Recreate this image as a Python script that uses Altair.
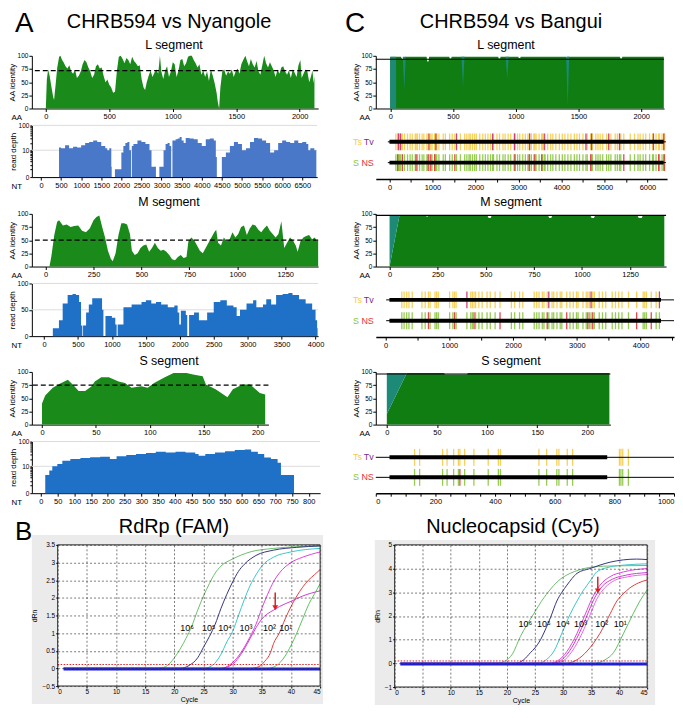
import altair as alt
import pandas as pd

FONT = "Liberation Sans"
GREEN_A = "#1a8a1a"
GREEN_C = "#0f7d12"
TEAL = "#1d8a78"
BLUE_L = "#4a78c8"
BLUE_MS = "#1f71c8"
YEL = "#f6cc4a"
TV_COL = "#c8306a"
S_COL = "#8cc63f"
NS_COL = "#e2323a"
PURPLE = "#7b2d8e"

# ---------------- Panel A: CHRB594 vs Nyangole ----------------
nyL_aa = [(0,0),(8,55),(18,74),(30,62),(45,40),(58,22),(65,16),(75,40),(90,78),(105,98),(115,100),(128,92),(140,88),(155,80),(170,76),(185,82),(200,70),(215,66),(230,74),(245,58),(260,62),(275,70),(290,84),(305,92),(320,88),(335,78),(350,70),(365,58),(380,64),(395,80),(410,84),(425,76),(440,78),(455,62),(470,50),(485,55),(500,45),(515,40),(530,30),(545,32),(560,72),(575,98),(590,100),(605,94),(620,86),(635,96),(650,92),(665,84),(680,98),(695,90),(710,86),(725,80),(740,82),(755,55),(770,40),(782,35),(795,50),(810,62),(825,72),(840,60),(855,68),(870,74),(885,66),(899,100),(910,70),(925,56),(940,72),(955,80),(970,60),(985,70),(1000,88),(1015,84),(1030,60),(1045,72),(1060,92),(1075,94),(1090,80),(1105,86),(1120,98),(1135,100),(1150,100),(1165,92),(1180,86),(1195,78),(1210,84),(1225,64),(1240,72),(1255,60),(1270,70),(1285,52),(1300,74),(1315,62),(1330,48),(1345,30),(1355,12),(1365,0),(1375,40),(1390,70),(1405,74),(1420,62),(1435,70),(1450,66),(1465,74),(1480,60),(1495,70),(1510,76),(1525,66),(1540,84),(1555,92),(1572,100),(1585,90),(1600,80),(1615,94),(1630,84),(1645,78),(1660,90),(1675,70),(1690,64),(1705,82),(1720,100),(1735,86),(1750,78),(1765,88),(1780,80),(1795,72),(1810,60),(1825,74),(1840,66),(1855,78),(1870,80),(1885,70),(1900,64),(1915,72),(1930,58),(1945,74),(1960,68),(1975,60),(1990,82),(2005,92),(2015,58),(2030,66),(2045,74),(2060,70),(2075,50),(2090,62),(2100,72),(2110,48),(2116,62)]
nyL_nt = [(0,0),(450,13),(500,12),(600,16),(700,12),(800,14),(900,13),(1000,16),(1100,20),(1200,22),(1300,25),(1400,22),(1500,15),(1600,12),(1650,10),(1700,12),(1750,1.5),(1760,0),(1840,1),(1960,1),(2000,8),(2050,15),(2100,20),(2150,22),(2200,10),(2240,0),(2260,15),(2300,18),(2400,25),(2500,22),(2600,18),(2700,10),(2750,1.5),(2860,0),(2945,1.5),(3000,1.5),(3050,10),(3100,18),(3150,20),(3200,15),(3240,0),(3270,25),(3350,28),(3400,30),(3450,35),(3500,25),(3550,20),(3600,32),(3700,30),(3800,28),(3900,20),(4000,15),(4100,28),(4200,30),(4300,25),(4350,5),(4375,0),(4500,5),(4600,8),(4700,15),(4800,22),(4900,18),(5000,10),(5100,12),(5200,22),(5300,32),(5400,30),(5500,25),(5600,20),(5700,8),(5800,10),(5900,20),(6000,25),(6100,22),(6200,20),(6300,25),(6400,20),(6500,22),(6600,18),(6650,10),(6700,12),(6800,10),(6850,0)]
nyM_aa = [(0,0),(20,0),(30,20),(45,60),(60,85),(70,88),(90,78),(110,80),(130,75),(150,77),(170,78),(190,68),(210,65),(230,72),(250,88),(265,94),(280,97),(295,75),(310,55),(325,30),(340,15),(350,10),(365,25),(380,60),(395,82),(410,82),(425,80),(440,62),(450,30),(465,22),(480,25),(495,35),(510,40),(525,42),(540,28),(555,35),(570,45),(585,35),(600,30),(615,32),(630,28),(645,22),(660,14),(675,12),(690,18),(705,22),(720,16),(735,18),(745,48),(760,55),(775,50),(790,40),(805,30),(820,25),(835,35),(850,45),(865,55),(880,65),(890,70),(900,45),(915,40),(930,55),(945,48),(960,52),(975,65),(990,55),(1005,62),(1020,75),(1035,78),(1050,60),(1065,72),(1080,80),(1095,78),(1110,70),(1125,65),(1140,72),(1155,78),(1170,68),(1185,62),(1200,55),(1215,62),(1230,86),(1245,35),(1260,45),(1275,55),(1290,50),(1305,40),(1315,28),(1330,48),(1345,55),(1360,58),(1375,60),(1390,52),(1405,55),(1415,48),(1422,50)]
nyM_nt = [(0,0),(130,15),(220,30),(275,62),(348,78),(420,80),(470,78),(517,65),(545,20),(565,0),(575,20),(620,45),(660,60),(710,72),(800,72),(855,50),(875,0),(905,38),(1000,35),(1050,22),(1070,0),(1085,22),(1170,55),(1290,60),(1436,65),(1500,68),(1580,62),(1650,65),(1726,60),(1823,55),(1920,58),(1968,45),(1992,22),(2016,48),(2089,40),(2110,0),(2137,40),(2210,45),(2282,30),(2355,30),(2403,45),(2500,65),(2597,68),(2693,58),(2790,55),(2838,38),(2887,50),(2983,62),(3080,68),(3128,55),(3225,60),(3274,70),(3346,60),(3419,78),(3515,80),(3600,82),(3660,78),(3757,70),(3854,62),(3950,50),(4000,30),(4023,15),(4030,0)]
nyS_aa = [(0,40),(3,55),(10,70),(16,77),(24,85),(30,73),(34,64),(40,64),(46,73),(49,82),(55,90),(62,90),(71,82),(77,79),(83,70),(92,73),(98,70),(104,79),(113,89),(122,98),(134,98),(140,95),(149,92),(152,76),(161,67),(172,52),(177,67),(186,76),(193,76),(198,67),(202,60),(207,57)]
nyS_nt = [(13,4.1),(25,6.5),(34,10),(49,12.5),(64,17),(88,20),(118,22),(147,24),(177,25),(206,20),(226,26),(255,29),(284,32),(314,35),(343,39),(373,37),(402,39),(432,37),(461,32),(471,27),(491,32),(520,37),(550,41),(579,46),(609,48),(628,39),(648,32),(667,23),(687,20),(707,14),(717,4.1),(756,0)]
ny_thresholds = {"L": 72, "M": 50, "S": 75}

# ---------------- Panel C: CHRB594 vs Bangui ----------------
bgL_aa = [(0,98),(85,98),(95,94),(110,94),(120,98),(290,98),(295,89),(305,89),(310,98),(470,98),(475,95),(485,95),(490,98),(860,98),(865,95),(875,95),(880,98),(1020,98),(1025,96),(1035,96),(1040,98),(1400,98),(1405,96),(1410,98),(1830,98),(1835,95),(1845,95),(1850,98),(2180,98)]
bgL_teal = [("a",0,0,98),("a",47,0,98),("b",100,98,98),("b",112,37,98),("b",124,98,98),("c",568,98,98),("c",580,41,98),("c",592,98,98),("d",920,98,98),("d",932,57,98),("d",944,98,98),("e",1402,98,98),("e",1414,5,98),("e",1426,98,98)]
bgM_aa = [(0,0),(51,96),(190,96),(195,94),(200,96),(510,96),(515,92),(525,92),(530,96),(825,96),(830,92),(840,92),(845,96),(1045,96),(1050,92),(1062,92),(1067,96),(1290,96),(1295,92),(1310,92),(1315,96),(1428,96)]
bgM_teal = [("a",0,0,96),("a",51,96,96)]
bgS_aa = [(0,20),(20,98),(57,98),(58,95),(80,95),(81,98),(222,98)]
bgS_teal = [("a",0,20,98),("a",20,98,98)]
bg_lines = {"L": 93.5, "M": 97, "S": 96}

bgL_sub = [150,190,210,230,260,300,350,420,480,530,600,620,650,700,760,800,870,900,920,960,990,1050,1060,1080,1100,1150,1250,1300,1400,1460,1520,1560,1650,1750,1800,1850,1880,1930,1980,2020,2100,2170,2230,2290,2350,2400,2420,2500,2560,2640,2690,2760,2820,2900,2910,2920,2980,3030,3100,3160,3220,3250,3260,3300,3360,3380,3410,3480,3540,3560,3600,3620,3680,3750,3800,3870,3950,4020,4080,4150,4220,4300,4360,4420,4500,4570,4600,4680,4700,4720,4800,4850,4900,4960,5050,5100,5150,5250,5300,5350,5380,5450,5600,5700,5780,5830,5900,5960,6050,6120,6140,6200,6260,6280,6340,6380,6390,6400]
bgL_tv = [210,260,920,1080,1560,2400,2910,3260,3600,4570,4700,5100,5350,6140,6380]
bgL_ns = [190,300,620,900,960,1050,1520,2920,3250,3380,3540,4680,5450,6260,6390]
bgM_sub = [255,291,332,367,418,571,622,673,699,776,801,827,1005,1056,1082,1107,1276,1337,1362,1388,1413,1464,1515,1592,1643,1719,1796,1974,2026,2102,2153,2332,2372,2408,2459,2485,2536,2561,2612,2638,2689,2740,2765,2842,2893,2944,2995,3020,3097,3148,3173,3199,3224,3250,3276,3352,3403,3454,3556,3607,3658,3709,3811,3939,4041,4066,4092,4168,4245,4296]
bgM_tv = [1276,2561,3224,4296]
bgM_ns = [673,1082,1388,1796,2536,2842,3173,3250,3939,4168]
bgS_sub = [130,147,224,239,261,277,282,298,329,377,411,418,547,573,607,614,642,660,817,822,828,847]
bgS_tv = []
bgS_ns = [282]

# ---------------- Panel B: qPCR ----------------
cycles_axis = [0, 5, 10, 15, 20, 25, 30, 35, 40, 45]
fam_curves = [
    ("g6", "#6cbd6c", [1,17,18.5,20,21,22,23,24,25,26,27,28,30,33,37,41,45], [0,0,0.05,0.3,0.55,0.85,1.2,1.65,2.05,2.4,2.7,2.9,3.1,3.3,3.4,3.45,3.47]),
    ("n5", "#34347e", [1,21,22.5,24,25,26,27,28,29,30,31,32,34,37,41,45], [0,0,0.08,0.3,0.6,0.9,1.25,1.7,2.1,2.45,2.75,2.95,3.2,3.35,3.43,3.47]),
    ("c4", "#3ec6c6", [1,25,26.5,28,29,30,31,32,33,34,35,37,40,45], [0,0,0.08,0.4,0.75,1.05,1.5,1.95,2.35,2.65,2.9,3.15,3.3,3.4]),
    ("m3a", "#e040dc", [1,28,29.5,31,32,33,34,35,36,37,38,40,42,45], [0,0,0.1,0.35,0.6,0.9,1.25,1.7,2.1,2.45,2.7,3.0,3.15,3.3]),
    ("m3b", "#d23ad0", [1,28,30,31,32,33,34,35,36,37,38,40,42,45], [0,0,0.12,0.3,0.55,0.85,1.15,1.4,1.55,1.65,1.75,1.9,2.05,2.2]),
    ("r2", "#e04040", [1,33,34.5,35.5,36.5,37,38,39,40,41,42,43,44,45], [0,0,0.05,0.2,0.45,0.7,1.0,1.4,1.75,2.05,2.3,2.5,2.65,2.8]),
    ("g1", "#5fbf5f", [1,36,37.5,39,40,41,42,43,44,45], [0,0,0.08,0.35,0.65,1.0,1.4,1.8,2.1,2.4]),
]
cy5_curves = [
    ("g6", "#6cbd6c", [1,18,19.5,21,22.4,23.5,24.8,25.7,26.6,27.5,28.4,29.5,30.7,32,33.7,35.5,37.2,41,45], [0,0,0.08,0.4,1.13,1.6,2.1,2.45,2.77,3.05,3.3,3.55,3.73,3.87,4.0,4.07,4.1,4.12,4.13]),
    ("n5", "#34347e", [1,21.5,23,24.2,25,26,27,27.8,28.9,29.8,30.7,31.6,32.5,34.8,38.4,43.1,45], [0,0,0.15,0.45,0.65,1.0,1.5,1.95,2.63,3.0,3.3,3.58,3.8,4.0,4.27,4.4,4.38]),
    ("c4", "#3ec6c6", [1,25.5,27,28.4,29.8,31.3,32.5,33.4,34.3,35.2,36,38.4,41,45], [0,0,0.15,0.52,1.27,2.09,2.63,3.0,3.3,3.6,3.86,4.07,4.15,4.2]),
    ("m3a", "#e040dc", [1,27.5,29,30.7,32.5,34,35.1,36.6,38.4,40.8,45], [0,0,0.1,0.5,1.27,2.09,2.7,3.3,3.66,3.86,4.0]),
    ("m3b", "#d23ad0", [1,28,29.5,31.1,32.9,34.4,35.5,37,38.8,41.2,45], [0,0,0.1,0.5,1.27,2.09,2.7,3.25,3.55,3.72,3.83]),
    ("m3c", "#e866e0", [1,28.5,30,31.6,33.4,34.9,36,37.5,39.2,41.5,45], [0,0,0.1,0.5,1.27,2.09,2.7,3.2,3.5,3.65,3.75]),
    ("r2", "#e04040", [1,30.5,32.5,34.3,36.6,38.4,39.6,40.8,41.9,43.5,45], [0,0,0.15,0.52,1.27,2.09,2.63,2.95,3.18,3.4,3.52]),
    ("g1", "#5fbf5f", [1,35.5,37.5,39,40.8,42.5,43.7,45], [0,0,0.15,0.45,1.27,2.09,2.63,3.1]),
]
dil_labels = ["10\u2076", "10\u2075", "10\u2074", "10\u00b3", "10\u00b2", "10\u00b9"]
fam_label_x = [22.2, 25.9, 28.7, 32.3, 36.3, 39.1]
fam_label_y = 1.13
cy5_label_x = [23.3, 26.6, 30.0, 33.1, 36.9, 40.2]
cy5_label_y = 1.68
fam_arrow = (37.3, 2.15, 1.72)
cy5_arrow = (36.2, 3.65, 3.05)
fam_threshold, cy5_threshold = 0.11, 0.1
fam_baseline, cy5_baseline = -0.02, -0.03


def text_layer(txt, x, y, size, align="left", color="black"):
    return alt.Chart(pd.DataFrame({"t": [txt]})).mark_text(
        align=align, baseline="alphabetic", fontSize=size, font=FONT, color=color
    ).encode(x=alt.value(x), y=alt.value(y), text="t:N")


def pad_layer(top):
    # invisible box that reserves room above the plot for the segment titles
    return alt.Chart(pd.DataFrame({"a": [0]})).mark_rect(opacity=0).encode(
        x=alt.value(0), x2=alt.value(1), y=alt.value(-top), y2=alt.value(0))


def aa_panel(pairs, dom, ticks, width, thr, dashed, texts, green, teal=None, aa_x=-21, pad=None):
    df = pd.DataFrame(pairs, columns=["pos", "val"])
    xs = alt.Scale(domain=dom, nice=False, zero=False)
    ys = alt.Scale(domain=[0, 100], nice=False, zero=False)
    xa = alt.Axis(values=ticks, title="AA", titleX=aa_x, titleY=9, titleAlign="left",
                  titleBaseline="middle", labelOverlap=False, labelFlush=False,
                  titleFontSize=8, format="d")
    ya = alt.Axis(values=[0, 25, 50, 75, 100], title="AA identity", labelFontSize=6.5)
    layers = [alt.Chart(df).mark_area(color=green).encode(
        x=alt.X("pos:Q", scale=xs, axis=xa), y=alt.Y("val:Q", scale=ys, axis=ya))]
    if teal is not None:
        tdf = pd.DataFrame(teal, columns=["g", "pos", "lo", "hi"])
        layers.append(alt.Chart(tdf).mark_area(color=TEAL).encode(
            x=alt.X("pos:Q", scale=xs, axis=xa), y=alt.Y("lo:Q", scale=ys, axis=ya),
            y2="hi:Q", detail="g:N"))
    kw = dict(color="black", strokeWidth=1.2)
    if dashed:
        kw["strokeDash"] = [5, 3]
    layers.append(alt.Chart(pd.DataFrame({"t": [thr]})).mark_rule(**kw).encode(
        y=alt.Y("t:Q", scale=ys, axis=ya)))
    for t in texts:
        layers.append(text_layer(*t))
    if pad:
        layers.append(pad_layer(pad))
    return alt.layer(*layers).properties(width=width, height=53)


def depth_panel(pairs, dom, ticks, width, height, log, color):
    df = pd.DataFrame(pairs, columns=["pos", "val"])
    xs = alt.Scale(domain=dom, nice=False, zero=False)
    if log:
        ys = alt.Scale(type="symlog", domain=[0, 100], nice=False)
        yv = [0, 1, 2, 3, 4, 5, 6, 7, 8, 9, 10, 20, 30, 40, 50, 60, 70, 80, 90, 100]
        ya = alt.Axis(values=yv, title="read depth", format="d", tickSize=2, labelFontSize=6.5,
                      labelExpr="(datum.value==0||datum.value==10||datum.value==100) ? datum.label : ''")
        gv = [10, 100]
    else:
        ys = alt.Scale(domain=[0, 100], nice=False, zero=False)
        ya = alt.Axis(values=[0, 50, 100], title="read depth", labelFontSize=6.5)
        gv = [50, 100]
    xa = alt.Axis(values=ticks, title="NT", titleX=-21, titleY=9, titleAlign="left",
                  titleBaseline="middle", labelOverlap=False, labelFlush=False, format="d")
    grid = alt.Chart(pd.DataFrame({"g": gv})).mark_rule(color="#dcdcdc").encode(
        y=alt.Y("g:Q", scale=ys, axis=ya))
    area = alt.Chart(df).mark_area(color=color, interpolate="step-after").encode(
        x=alt.X("pos:Q", scale=xs, axis=xa), y=alt.Y("val:Q", scale=ys, axis=ya))
    return alt.layer(grid, area).properties(width=width, height=height)


def track_panel(subs, tv, ns, dom, tick_vals, every, width, height, thick, thin, flush=False):
    xs = alt.Scale(domain=dom, nice=False, zero=False)
    xa = alt.Axis(values=tick_vals, title=None, domainWidth=1.5, labelOverlap=False,
                  labelFlush=flush, format="d",
                  labelExpr=f"datum.value % {every} === 0 ? datum.label : ''")
    ys = alt.Scale(domain=["top", "bot"], paddingInner=0, paddingOuter=0.29)
    yenc = alt.Y("row:N", scale=ys, axis=None)
    groups = [
        ([p for p in subs if p not in tv], "top", YEL),
        ([p for p in subs if p in tv], "top", TV_COL),
        ([p for p in subs if p not in ns], "bot", S_COL),
        ([p for p in subs if p in ns], "bot", NS_COL),
    ]
    layers = []
    for plist, r, col in groups:
        if not plist:
            continue
        gdf = pd.DataFrame({"pos": plist, "row": [r] * len(plist)})
        layers.append(alt.Chart(gdf).mark_tick(thickness=1.3, size=17, opacity=0.9, color=col).encode(
            x=alt.X("pos:Q", scale=xs, axis=xa), y=yenc))
    thin_df = pd.DataFrame({"row": ["top", "bot"], "a": [thin[0]] * 2, "b": [thin[1]] * 2})
    thick_df = pd.DataFrame({"row": ["top", "bot"], "a": [thick[0]] * 2, "b": [thick[1]] * 2})
    layers.append(alt.Chart(thin_df).mark_rule(color="black", strokeWidth=1).encode(
        x=alt.X("a:Q", scale=xs, axis=xa), x2="b:Q", y=yenc))
    layers.append(alt.Chart(thick_df).mark_rule(color="black", strokeWidth=4).encode(
        x=alt.X("a:Q", scale=xs, axis=xa), x2="b:Q", y=yenc))
    for w, r, xo, col in [("Ts", "top", -14, YEL), ("Tv", "top", -2, PURPLE),
                          ("S", "bot", -17, S_COL), ("NS", "bot", -2, NS_COL)]:
        layers.append(alt.Chart(pd.DataFrame({"w": [w], "row": [r]})).mark_text(
            align="right", baseline="middle", fontSize=9, color=col, font=FONT).encode(
            x=alt.value(xo), y=yenc, text="w:N"))
    return alt.layer(*layers).properties(width=width, height=height)


def qpcr_panel(curves, ydom, yticks, ox, width, height, thr, base, lab_x, lab_y, arrow,
               texts, gray, pad):
    # ox: left inset of the plotting frame inside this cell
    xs = alt.Scale(domain=[0, 45], nice=False, zero=False, range=[ox, ox + width])
    ys = alt.Scale(domain=ydom, nice=False, zero=False)
    xa = alt.Axis(values=cycles_axis, title="Cycle", grid=True, gridDash=[2, 2],
                  gridColor="#444", gridWidth=0.7, zindex=1, domain=False,
                  labelFontSize=6.5, titleFontSize=7, tickSize=2, titlePadding=0)
    ya = alt.Axis(values=yticks, title="dRn", format="~g", grid=True, gridDash=[2, 2],
                  gridColor="#444", gridWidth=0.7, zindex=1, domain=False, offset=-ox,
                  labelFontSize=6.5, titleFontSize=7, tickSize=2, titlePadding=4)
    X = lambda f: alt.X(f, scale=xs, axis=xa)
    Y = lambda f: alt.Y(f, scale=ys, axis=ya)
    one = pd.DataFrame({"a": [0]})
    bg = alt.Chart(one).mark_rect(color="#ebebeb").encode(
        x=alt.value(ox + gray[0]), x2=alt.value(ox + width + gray[1]),
        y=alt.value(gray[2]), y2=alt.value(height + gray[3]))
    white = alt.Chart(one).mark_rect(color="white").encode(
        x=alt.value(ox), x2=alt.value(ox + width), y=alt.value(0), y2=alt.value(height))
    layers = [bg, white]
    for name, col, cx, cy in curves:
        cdf = pd.DataFrame({"cycle": cx, "v": cy})
        layers.append(alt.Chart(cdf).mark_line(strokeWidth=1, interpolate="monotone", color=col).encode(
            x=X("cycle:Q"), y=Y("v:Q")))
    layers.append(alt.Chart(pd.DataFrame({"t": [thr]})).mark_rule(
        color="#e02020", strokeDash=[1.5, 1.5], strokeWidth=1).encode(
        y=Y("t:Q"), x=alt.value(ox), x2=alt.value(ox + width)))
    layers.append(alt.Chart(pd.DataFrame({"cycle": [1, 45], "v": [base, base]})).mark_line(
        color="#1d1dd8", strokeWidth=3).encode(x=X("cycle:Q"), y=Y("v:Q")))
    layers.append(alt.Chart(pd.DataFrame({"x": lab_x, "y": [lab_y] * len(lab_x), "t": dil_labels})).mark_text(
        fontSize=9, font=FONT, color="black").encode(x=X("x:Q"), y=Y("y:Q"), text="t:N"))
    adf = pd.DataFrame({"x": [arrow[0]], "y1": [arrow[1]], "y2": [arrow[2]]})
    layers.append(alt.Chart(adf).mark_rule(color="#e02020", strokeWidth=1.5).encode(
        x=X("x:Q"), y=Y("y1:Q"), y2="y2:Q"))
    layers.append(alt.Chart(adf).mark_point(shape="triangle-down", filled=True, size=35,
                                            color="#e02020", opacity=1).encode(x=X("x:Q"), y=Y("y2:Q")))
    layers.append(alt.Chart(one).mark_rect(filled=False, stroke="#222", strokeWidth=1).encode(
        x=alt.value(ox), x2=alt.value(ox + width), y=alt.value(0), y2=alt.value(height)))
    for t in texts:
        txt, x, y, size = t[:4]
        rest = t[4:]
        layers.append(text_layer(txt, x + ox, y, size, *rest))
    layers.append(pad_layer(pad))
    return alt.layer(*layers).properties(width=ox + width, height=height)


# ---------- build panels ----------
aL_A = aa_panel(nyL_aa, [-110, 2145], [0, 500, 1000, 1500, 2000], 288, ny_thresholds["L"], True,
                [("A", -17, -24, 28), ("CHRB594 vs Nyangole", 138, -28, 20, "center"),
                 ("L segment", 143, -7, 12.5, "center")], GREEN_A)
aL_C = aa_panel(bgL_aa, [-115, 2182], [0, 500, 1000, 1500, 2000], 290, bg_lines["L"], False,
                [("C", -31, -24, 28), ("CHRB594 vs Bangui", 136, -28, 20, "center"),
                 ("L segment", 131, -7, 12.5, "center")], GREEN_C, teal=bgL_teal, aa_x=-17)
dL = depth_panel(nyL_nt, [-226, 6870], list(range(0, 6501, 500)), 287, 52, True, BLUE_L)
tL = track_panel(bgL_sub, bgL_tv, bgL_ns, [-318, 6456], list(range(0, 6001, 500)), 1000,
                 293, 54, (0, 6378), (-38, 6430))

aM_A = aa_panel(nyM_aa, [-72, 1422], [0, 250, 500, 750, 1000, 1250], 288, ny_thresholds["M"], True,
                [("M segment", 138, -8, 12.5, "center")], GREEN_A, pad=22)
aM_C = aa_panel(bgM_aa, [-71.5, 1437], [0, 250, 500, 750, 1000, 1250], 292, bg_lines["M"], False,
                [("M segment", 136, -8, 12.5, "center")], GREEN_C, teal=bgM_teal, aa_x=-17, pad=22)
dM = depth_panel(nyM_nt, [-179, 4038], list(range(0, 4001, 500)), 288, 53, False, BLUE_MS)
tM = track_panel(bgM_sub, bgM_tv, bgM_ns, [-153, 4525], list(range(0, 4501, 500)), 1000,
                 300, 54, (61, 4321), (10, 4525))

aS_A = aa_panel(nyS_aa, [-9.4, 210], [0, 50, 100, 150, 200], 238, ny_thresholds["S"], True,
                [("S segment", 138, -7, 12.5, "center")], GREEN_A, pad=22)
aS_C = aa_panel(bgS_aa, [-11, 223], [0, 50, 100, 150, 200], 236, bg_lines["S"], False,
                [("S segment", 136, -7, 12.5, "center")], GREEN_C, teal=bgS_teal, aa_x=-17, pad=22)
dS = depth_panel(nyS_nt, [-27, 834], list(range(0, 801, 50)), 290, 52, True, BLUE_MS)
tS = track_panel(bgS_sub, bgS_tv, bgS_ns, [0, 1000], list(range(0, 1001, 50)), 200,
                 300, 52, (46, 776), (0, 1000), flush=True)

qL = qpcr_panel(fam_curves, [-0.5, 3.5], [-0.5, 0, 0.5, 1, 1.5, 2, 2.5, 3, 3.5], 26, 264, 142,
                fam_threshold, fam_baseline, fam_label_x, fam_label_y, fam_arrow,
                [("B", -43, -5, 26), ("RdRp (FAM)", 117, -12, 20, "center")], (-26, 3, -10, 18), 38)
qR = qpcr_panel(cy5_curves, [-1, 5], [-1, 0, 1, 2, 3, 4, 5], 19, 254, 143,
                cy5_threshold, cy5_baseline, cy5_label_x, cy5_label_y, cy5_arrow,
                [("Nucleocapsid (Cy5)", 119, -12, 20, "center")], (-20, 8, -5, 18), 38)

chart = alt.concat(aL_A, aL_C, dL, tL, aM_A, aM_C, dM, tM, aS_A, aS_C, dS, tS, qL, qR,
                   columns=2, spacing={"row": 1, "column": 19}, align="each"
).properties(padding=0).configure(font=FONT).configure_axis(
    labelFont=FONT, titleFont=FONT, labelFontSize=7.5, titleFontSize=8,
    labelColor="black", titleColor="black", domainColor="black", tickColor="black",
    tickSize=3, titleFontWeight="normal", grid=False, labelPadding=1, titlePadding=1
).configure_view(stroke=None)

chart.save("out.html", embed_options={"renderer": "svg", "actions": False})
